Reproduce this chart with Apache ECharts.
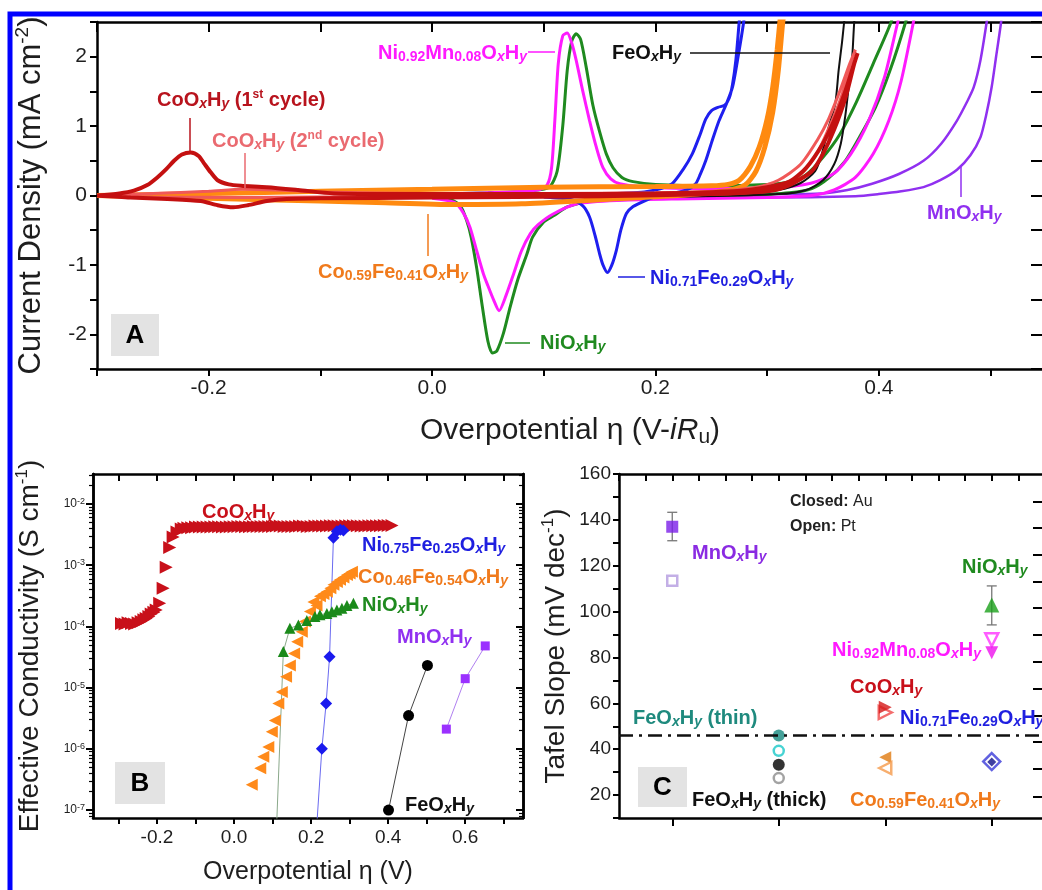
<!DOCTYPE html>
<html>
<head>
<meta charset="utf-8">
<script src="https://cdn.jsdelivr.net/npm/echarts@6/dist/echarts.min.js"></script>
<style>
  html, body { margin: 0; background: #fff; }
  #chart { width: 1042px; height: 890px; }
</style>
</head>
<body>
<div id="chart"></div>
<script>
// ---- Panel A: cyclic voltammograms [overpotential (V), current density (mA cm-2)] ----
const cvMnOxHy = [[0.10, 0.0], [0.2, 0.01], [0.3, 0.02], [0.349, 0.03], [0.372, 0.08], [0.394, 0.17], [0.418, 0.31], [0.44, 0.5], [0.456, 0.75], [0.47, 1.08], [0.479, 1.35], [0.485, 1.56], [0.491, 1.95], [0.4966, 2.5], [0.501, 3.0],
  [0.513, 3.0], [0.5095, 2.5], [0.505, 2.0], [0.501, 1.56], [0.496, 1.15], [0.491, 0.84], [0.482, 0.58], [0.47, 0.37], [0.455, 0.22], [0.44, 0.12], [0.42, 0.06], [0.4, 0.02], [0.379, -0.01], [0.3, -0.03], [0.2, -0.02], [0.1, -0.01]];
const cvNiOxHy = [[0.0, 0.02], [0.05, 0.04], [0.09, 0.07], [0.105, 0.12], [0.112, 0.35], [0.117, 1.0], [0.121, 1.8], [0.125, 2.22], [0.129, 2.33], [0.133, 2.25], [0.138, 1.85], [0.144, 1.3], [0.15, 0.92], [0.156, 0.6], [0.162, 0.4], [0.17, 0.26], [0.18, 0.2], [0.2, 0.16], [0.25, 0.14], [0.3, 0.16], [0.32, 0.2], [0.335, 0.3], [0.35, 0.55], [0.365, 0.88], [0.38, 1.35], [0.395, 1.9], [0.411, 2.5], [0.42, 3.0],
  [0.432, 3.0], [0.424, 2.5], [0.41, 1.8], [0.397, 1.27], [0.383, 0.85], [0.37, 0.5], [0.355, 0.25], [0.34, 0.1], [0.32, 0.04], [0.28, 0.0], [0.22, -0.03], [0.17, -0.06], [0.14, -0.08], [0.13, -0.12], [0.12, -0.17], [0.11, -0.28], [0.1, -0.38], [0.09, -0.6], [0.085, -0.84], [0.077, -1.2], [0.07, -1.6], [0.064, -1.98], [0.058, -2.24], [0.054, -2.27], [0.05, -2.1], [0.045, -1.6], [0.04, -1.05], [0.035, -0.6], [0.031, -0.36], [0.025, -0.14], [0.015, -0.05], [0.0, -0.03]];
const cvNiMnOxHy = [[0.0, 0.02], [0.05, 0.04], [0.095, 0.08], [0.103, 0.15], [0.107, 0.4], [0.11, 1.1], [0.113, 1.9], [0.117, 2.3], [0.121, 2.34], [0.125, 2.2], [0.129, 1.95], [0.135, 1.5], [0.141, 1.08], [0.147, 0.7], [0.153, 0.4], [0.16, 0.24], [0.168, 0.17], [0.19, 0.12], [0.25, 0.1], [0.3, 0.1], [0.34, 0.18], [0.36, 0.32], [0.375, 0.6], [0.391, 1.08], [0.405, 1.7], [0.417, 2.5], [0.425, 3.0],
  [0.437, 3.0], [0.431, 2.5], [0.42, 1.65], [0.409, 1.08], [0.395, 0.6], [0.379, 0.26], [0.36, 0.08], [0.34, 0.0], [0.3, -0.03], [0.22, -0.05], [0.17, -0.07], [0.13, -0.12], [0.108, -0.27], [0.095, -0.42], [0.088, -0.55], [0.08, -0.8], [0.073, -1.13], [0.066, -1.45], [0.06, -1.66], [0.055, -1.5], [0.05, -1.3], [0.046, -1.13], [0.04, -0.8], [0.034, -0.46], [0.028, -0.25], [0.02, -0.1], [0.0, -0.04]];
const cvNiFeOxHy = [[0.1, 0.0], [0.15, 0.02], [0.19, 0.05], [0.205, 0.1], [0.215, 0.17], [0.225, 0.38], [0.233, 0.6], [0.24, 0.88], [0.245, 1.1], [0.25, 1.22], [0.256, 1.27], [0.262, 1.3], [0.266, 1.4], [0.269, 1.6], [0.272, 1.95], [0.275, 2.5], [0.278, 3.0],
  [0.283, 3.0], [0.279, 2.5], [0.274, 2.0], [0.269, 1.56], [0.263, 1.3], [0.257, 1.08], [0.251, 0.8], [0.245, 0.5], [0.24, 0.3], [0.236, 0.17], [0.228, 0.08], [0.215, 0.03], [0.2, -0.02], [0.19, -0.08], [0.18, -0.16], [0.174, -0.26], [0.169, -0.5], [0.165, -0.79], [0.161, -1.0], [0.157, -1.11], [0.153, -1.0], [0.15, -0.84], [0.146, -0.58], [0.141, -0.31], [0.135, -0.15], [0.125, -0.06], [0.1, -0.02]];
const cvFeOxHy = [[0.1, 0.0], [0.2, 0.02], [0.28, 0.04], [0.31, 0.08], [0.33, 0.18], [0.343, 0.35], [0.349, 0.6], [0.355, 0.98], [0.361, 1.32], [0.364, 1.8], [0.367, 2.2], [0.369, 2.5], [0.373, 3.0],
  [0.381, 3.0], [0.378, 2.5], [0.376, 1.95], [0.373, 1.56], [0.37, 1.15], [0.366, 0.75], [0.36, 0.45], [0.35, 0.22], [0.335, 0.08], [0.31, 0.02], [0.2, -0.02], [0.1, -0.02]];
const cvCoFeOxHy = [[-0.3, 0.0], [-0.2, 0.03], [-0.1, 0.06], [0.0, 0.09], [0.1, 0.12], [0.2, 0.13], [0.25, 0.14], [0.265, 0.16], [0.275, 0.22], [0.285, 0.42], [0.293, 0.7], [0.3, 1.1], [0.305, 1.56], [0.309, 2.1], [0.312, 2.6], [0.315, 3.0],
  [0.318, 3.0], [0.314, 2.5], [0.31, 1.8], [0.305, 1.2], [0.298, 0.7], [0.29, 0.35], [0.28, 0.15], [0.26, 0.06], [0.22, 0.0], [0.15, -0.06], [0.08, -0.12], [0.02, -0.13], [-0.05, -0.1], [-0.15, -0.06], [-0.25, -0.02], [-0.3, 0.0]];
const cvCoOxHy1 = [[-0.3, 0.0], [-0.28, 0.03], [-0.267, 0.07], [-0.255, 0.15], [-0.246, 0.26], [-0.238, 0.38], [-0.231, 0.5], [-0.224, 0.59], [-0.216, 0.62], [-0.209, 0.57], [-0.204, 0.46], [-0.198, 0.33], [-0.192, 0.22], [-0.182, 0.16], [-0.171, 0.14], [-0.148, 0.12], [-0.12, 0.08], [-0.088, 0.03], [0.0, 0.02], [0.1, 0.02], [0.2, 0.03], [0.27, 0.06], [0.3, 0.12], [0.32, 0.2], [0.335, 0.4], [0.35, 0.75], [0.36, 1.08], [0.37, 1.5], [0.377, 1.85], [0.381, 2.05],
  [0.378, 1.9], [0.37, 1.4], [0.36, 0.95], [0.35, 0.6], [0.34, 0.35], [0.32, 0.15], [0.3, 0.06], [0.25, 0.02], [0.15, -0.01], [0.0, -0.03], [-0.1, -0.04], [-0.13, -0.05], [-0.148, -0.08], [-0.165, -0.14], [-0.178, -0.17], [-0.192, -0.14], [-0.207, -0.08], [-0.237, -0.05], [-0.27, -0.03], [-0.3, 0.0]];
const cvCoOxHy2 = [[-0.3, 0.0], [-0.25, 0.03], [-0.2, 0.06], [-0.17, 0.09], [-0.14, 0.08], [-0.1, 0.05], [0.0, 0.03], [0.1, 0.03], [0.2, 0.04], [0.26, 0.07], [0.29, 0.12], [0.31, 0.22], [0.33, 0.45], [0.345, 0.8], [0.355, 1.1], [0.365, 1.5], [0.374, 1.9], [0.379, 2.1],
  [0.376, 1.95], [0.367, 1.45], [0.356, 1.0], [0.345, 0.62], [0.33, 0.3], [0.31, 0.12], [0.28, 0.04], [0.2, 0.0], [0.0, -0.02], [-0.1, -0.02], [-0.17, -0.03], [-0.25, -0.02], [-0.3, 0.0]];
const aXLabels = [-0.2, 0.0, 0.2, 0.4];
const aYLabels = [-2, -1, 0, 1, 2];

// ---- Panel B: effective conductivity (S cm-1) vs overpotential (V) ----
const condCoX = [-0.292, -0.283, -0.275, -0.266, -0.258, -0.249, -0.241, -0.234, -0.228, -0.221, -0.215, -0.208, -0.202, -0.193, -0.184, -0.176, -0.167, -0.158, -0.148, -0.137,
  -0.13, -0.12, -0.11, -0.10, -0.09, -0.08, -0.07, -0.06, -0.05, -0.04, -0.03, -0.02, -0.01, 0.0, 0.01, 0.02, 0.03, 0.04, 0.05, 0.06, 0.07, 0.08, 0.09, 0.10,
  0.11, 0.12, 0.13, 0.14, 0.15, 0.16, 0.17, 0.18, 0.19, 0.20, 0.21, 0.22, 0.23, 0.24, 0.25, 0.26, 0.27, 0.28, 0.29, 0.30, 0.31, 0.32, 0.33, 0.34, 0.35, 0.36, 0.37, 0.38, 0.39, 0.40, 0.41];
const condCoY = [1.12e-4, 1.1e-4, 1.15e-4, 1.12e-4, 1.1e-4, 1.15e-4, 1.2e-4, 1.28e-4, 1.35e-4, 1.45e-4, 1.6e-4, 1.7e-4, 1.85e-4, 2.4e-4, 4.2e-4, 9.3e-4, 1.95e-3, 2.9e-3, 3.5e-3, 3.9e-3,
  4.0e-3, 4.1e-3, 4.1e-3, 4.2e-3, 4.2e-3, 4.2e-3, 4.2e-3, 4.2e-3, 4.25e-3, 4.25e-3, 4.2e-3, 4.2e-3, 4.25e-3, 4.25e-3, 4.3e-3, 4.3e-3, 4.25e-3, 4.25e-3, 4.3e-3, 4.3e-3, 4.3e-3, 4.3e-3, 4.3e-3, 4.3e-3,
  4.35e-3, 4.35e-3, 4.3e-3, 4.3e-3, 4.3e-3, 4.3e-3, 4.35e-3, 4.35e-3, 4.3e-3, 4.3e-3, 4.35e-3, 4.35e-3, 4.35e-3, 4.35e-3, 4.4e-3, 4.4e-3, 4.35e-3, 4.35e-3, 4.4e-3, 4.4e-3, 4.4e-3, 4.4e-3, 4.35e-3, 4.35e-3, 4.4e-3, 4.4e-3, 4.4e-3, 4.4e-3, 4.45e-3, 4.45e-3, 4.45e-3];
const condNiFeX = [0.21, 0.228, 0.239, 0.248, 0.258, 0.267, 0.276, 0.284];
const condNiFeY = [2e-8, 1.0e-6, 5.5e-6, 3.2e-5, 2.8e-3, 3.6e-3, 3.8e-3, 3.7e-3];
const condCoFeX = [0.046, 0.068, 0.076, 0.089, 0.098, 0.106, 0.115, 0.124, 0.135, 0.145, 0.156, 0.164, 0.176, 0.184, 0.197, 0.206, 0.214, 0.223, 0.232, 0.241, 0.25, 0.258, 0.267, 0.275, 0.284, 0.293, 0.3, 0.306];
const condCoFeY = [2.6e-7, 4.8e-7, 7.4e-7, 1.07e-6, 1.9e-6, 2.9e-6, 5.5e-6, 8.5e-6, 1.5e-5, 2.3e-5, 3.6e-5, 5.6e-5, 8.2e-5, 1.2e-4, 1.75e-4, 2.5e-4, 2.2e-4, 3.1e-4, 3.4e-4, 3.7e-4, 4.2e-4, 4.8e-4, 5.3e-4, 5.8e-4, 6.3e-4, 6.9e-4, 7.3e-4, 7.8e-4];
const condNiX = [0.106, 0.128, 0.145, 0.167, 0.189, 0.21, 0.223, 0.241, 0.254, 0.267, 0.28, 0.293, 0.31];
const condNiY = [1e-8, 3.9e-5, 9.3e-5, 1.05e-4, 1.25e-4, 1.45e-4, 1.55e-4, 1.63e-4, 1.73e-4, 1.85e-4, 1.98e-4, 2.2e-4, 2.4e-4];
const condFeX = [0.401, 0.453, 0.502];
const condFeY = [1.0e-7, 3.5e-6, 2.3e-5];
const condMnX = [0.551, 0.60, 0.652];
const condMnY = [2.1e-6, 1.4e-5, 4.8e-5];
const bXTicks = [-0.3, -0.2, -0.1, 0.0, 0.1, 0.2, 0.3, 0.4, 0.5, 0.6, 0.7];
const bXLabels = [-0.2, 0.0, 0.2, 0.4, 0.6];
const bDecades = [-7, -6, -5, -4, -3, -2];

// ---- Panel C: Tafel slopes (mV dec-1); x = material column 1..4 ----
const tafelCols = ['MnOxHy', 'FeOxHy', 'CoOxHy / Co0.59Fe0.41OxHy', 'NiOxHy / Ni0.92Mn0.08OxHy / Ni0.71Fe0.29OxHy'];
const tafelMnAu = [[1, 137.0]];
const tafelMnPt = [[1, 113.4]];
const tafelFeThinAu = [[2, 46.0]];
const tafelFeThinPt = [[2, 39.3]];
const tafelFeThickAu = [[2, 33.2]];
const tafelFeThickPt = [[2, 27.4]];
const tafelCoAu = [[3, 58.3]];
const tafelCoPt = [[3, 56.0]];
const tafelCoFeAu = [[3, 36.5]];
const tafelCoFePt = [[3, 31.8]];
const tafelNiAu = [[4, 102.9]];
const tafelNiMnPt = [[4, 87.7]];
const tafelNiMnAu = [[4, 82.1]];
const tafelNiFePt = [[4, 34.6]];
const tafelNiFeAu = [[4, 34.4]];
const tafelErr = [[1, 130.9, 143.3], [4, 94.2, 111.2]];
const tafelRef = 46;
const cYLabels = [20, 40, 60, 80, 100, 120, 140, 160];
const cRightTicks = [19.4, 31.5, 43.1, 54.7, 66.4, 78, 89.9, 101.5, 113.2, 124.8, 136.5, 148];

const FONT = '"Liberation Sans", Arial, sans-serif';
const INK = '#1e1e1e';

// turn "CoO_{x}H_{y} (1^{st} cycle)" into ECharts rich tokens
function rt(s) {
  const re = /([_^~])\{([^}]*)\}/g;
  let out = '', last = 0, m;
  while ((m = re.exec(s))) {
    if (m.index > last) out += '{b|' + s.slice(last, m.index) + '}';
    const k = m[1] === '^' ? 'p' : m[1] === '~' ? 'i' : (/^[xy]$/.test(m[2]) ? 'si' : 's');
    out += '{' + k + '|' + m[2] + '}';
    last = re.lastIndex;
  }
  if (last < s.length) out += '{b|' + s.slice(last) + '}';
  return out;
}

function richSet(size, color, weight) {
  const base = { fontFamily: FONT, fontWeight: weight, color: color, fill: color };
  const sub = Math.round(size * 0.7), sup = Math.round(size * 0.62);
  return {
    b: { ...base, fontSize: size, lineHeight: Math.round(size * 1.15) },
    i: { ...base, fontSize: size, fontStyle: 'italic', lineHeight: Math.round(size * 1.15) },
    s: { ...base, fontSize: sub, verticalAlign: 'bottom', lineHeight: sub },
    si: { ...base, fontSize: sub, fontStyle: 'italic', verticalAlign: 'bottom', lineHeight: sub },
    p: { ...base, fontSize: sup, verticalAlign: 'top', lineHeight: sup }
  };
}

const frameLine = { show: true, onZero: false, lineStyle: { color: '#000', width: 2.5 } };
function axis(opt) {
  return Object.assign({
    type: 'value', axisLine: frameLine, splitLine: { show: false },
    axisLabel: { show: false }, axisTick: { show: false }, nameMoveOverlap: false
  }, opt);
}
function ticks(len, inside, extra) {
  return Object.assign({ show: true, inside: inside, length: len, lineStyle: { color: '#000', width: 2 } }, extra || {});
}
function labels(size, extra) {
  return Object.assign({ show: true, color: INK, fontFamily: FONT, fontSize: size }, extra);
}
function title(text, size, gap) {
  return {
    name: rt(text), nameLocation: 'middle', nameGap: gap,
    nameTextStyle: { rich: richSet(size, INK, 'normal') }
  };
}

const A = { left: 97, top: 22, width: 946, height: 347 };
const B = { left: 93, top: 474, width: 430, height: 344 };
const C = { left: 619, top: 474, width: 426, height: 344 };

const bMinor = [];
for (let n = -8; n <= -2; n++) for (let k = 2; k <= 9; k++) bMinor.push(n + Math.log10(k));
const bYMin = -7.13, bYMax = -1.51;

const xAxis = [
  axis({ gridIndex: 0, position: 'bottom', min: -0.3, max: 0.547, interval: 0.1, axisTick: ticks(7, false),
    axisLabel: labels(21, { customValues: aXLabels, formatter: v => v.toFixed(1), margin: 9 }),
    ...title('Overpotential η (V-~{iR}_{u})', 30, 44) }),
  axis({ gridIndex: 0, position: 'top', min: -0.3, max: 0.547, interval: 0.1, axisTick: ticks(10, true) }),
  axis({ gridIndex: 1, position: 'bottom', min: -0.366, max: 0.75, axisTick: ticks(6, false, { customValues: bXTicks }),
    axisLabel: labels(19, { customValues: bXLabels, formatter: v => v.toFixed(1), margin: 10 }),
    ...title('Overpotential η (V)', 25, 40) }),
  axis({ gridIndex: 1, position: 'top', min: -0.366, max: 0.75, axisTick: ticks(7, true, { customValues: bXTicks }) }),
  axis({ gridIndex: 2, position: 'bottom', min: 0.5, max: 4.5, axisTick: ticks(8, false, { customValues: [1, 2, 3, 4] }) }),
  axis({ gridIndex: 2, position: 'top', min: 0.5, max: 4.5, interval: 0.25, axisTick: ticks(7, true) })
];

const yAxis = [
  axis({ gridIndex: 0, position: 'left', min: -2.5, max: 2.5, interval: 0.5, axisTick: ticks(7, false),
    axisLabel: labels(21, { customValues: aYLabels, margin: 10 }),
    ...title('Current Density (mA cm^{-2})', 31, 48) }),
  axis({ gridIndex: 0, position: 'right', min: -2.5, max: 2.5, interval: 0.5, axisTick: ticks(12, true) }),
  axis({ gridIndex: 1, position: 'left', min: bYMin, max: bYMax, axisTick: ticks(7, false, { customValues: bDecades }),
    axisLabel: labels(12, { customValues: bDecades, margin: 8, formatter: v => '{m|10}{e|' + Math.round(v) + '}',
      rich: { m: { fontSize: 12, fontFamily: FONT, color: INK, lineHeight: 14 }, e: { fontSize: 9, fontFamily: FONT, color: INK, verticalAlign: 'top', lineHeight: 9 } } }),
    ...title('Effective Conductivity (S cm^{-1})', 28, 47) }),
  axis({ gridIndex: 1, position: 'left', min: bYMin, max: bYMax, axisTick: ticks(4, false, { customValues: bMinor.filter(v => v > bYMin && v < bYMax), lineStyle: { color: '#000', width: 1.2 } }) }),
  axis({ gridIndex: 1, position: 'right', min: bYMin, max: bYMax, axisTick: ticks(7, true, { customValues: bDecades }) }),
  axis({ gridIndex: 1, position: 'right', min: bYMin, max: bYMax, axisTick: ticks(4, true, { customValues: bMinor.filter(v => v > bYMin && v < bYMax), lineStyle: { color: '#000', width: 1.2 } }) }),
  axis({ gridIndex: 2, position: 'left', min: 10, max: 160, interval: 10, axisTick: ticks(6, false),
    axisLabel: labels(19, { customValues: cYLabels, margin: 8 }),
    ...title('Tafel Slope (mV dec^{-1})', 28, 47) }),
  axis({ gridIndex: 2, position: 'right', min: 10, max: 160, axisTick: ticks(12, true, { customValues: cRightTicks }) })
];

function cv(name, data, color, width, z) {
  return { name, type: 'line', xAxisIndex: 0, yAxisIndex: 0, data, showSymbol: false, smooth: 0.25, clip: true,
    lineStyle: { color, width }, z };
}
function cond(name, xs, ys, symbol, size, color, rotate, lineColor) {
  return { name, type: 'line', xAxisIndex: 2, yAxisIndex: 2, clip: true,
    data: xs.map((x, i) => [x, Math.log10(ys[i])]),
    symbol, symbolSize: size, symbolRotate: rotate || 0, showSymbol: true, showAllSymbol: true,
    itemStyle: { color }, lineStyle: lineColor ? { color: lineColor, width: 1 } : { width: 0, opacity: 0 }, z: 3 };
}
function taf(name, data, symbol, size, color, rotate, open) {
  return { name, type: 'scatter', xAxisIndex: 4, yAxisIndex: 6, data, symbol, symbolSize: size, symbolRotate: rotate || 0,
    itemStyle: open ? { color: '#fff', borderColor: color, borderWidth: 2.5 } : { color }, z: 4 };
}

const series = [
  cv('MnOxHy', cvMnOxHy, '#9030f0', 2.5, 2),
  cv('NiOxHy', cvNiOxHy, '#1f8a1f', 3, 3),
  cv('Ni0.92Mn0.08OxHy', cvNiMnOxHy, '#ff1aff', 3, 4),
  cv('Ni0.71Fe0.29OxHy', cvNiFeOxHy, '#1f1fef', 3, 5),
  cv('FeOxHy', cvFeOxHy, '#111', 2, 5),
  cv('Co0.59Fe0.41OxHy', cvCoFeOxHy, '#ff8a10', 5, 6),
  cv('CoOxHy 2nd', cvCoOxHy2, '#f05858', 3, 7),
  cv('CoOxHy 1st', cvCoOxHy1, '#c41010', 4, 8),

  cond('CoOxHy', condCoX, condCoY, 'triangle', 13, '#c8101a', -90),
  cond('Co0.46Fe0.54OxHy', condCoFeX, condCoFeY, 'triangle', 12, '#ff8a1a', 90),
  cond('NiOxHy', condNiX, condNiY, 'triangle', 11, '#1a8a1a', 0, '#8aa88a'),
  cond('Ni0.75Fe0.25OxHy', condNiFeX, condNiFeY, 'diamond', 12, '#1a1aee', 0, '#6a6af0'),
  cond('FeOxHy', condFeX, condFeY, 'circle', 11, '#000', 0, '#444'),
  cond('MnOxHy', condMnX, condMnY, 'rect', 9, '#9b30ff', 0, '#b080f0'),

  {
    type: 'custom', xAxisIndex: 4, yAxisIndex: 6, data: tafelErr, z: 2,
    renderItem: (params, api) => {
      const x = api.value(0);
      const lo = api.coord([x, api.value(1)]);
      const hi = api.coord([x, api.value(2)]);
      const st = { stroke: '#777', lineWidth: 1.3 };
      return { type: 'group', children: [
        { type: 'line', shape: { x1: lo[0], y1: lo[1], x2: hi[0], y2: hi[1] }, style: st },
        { type: 'line', shape: { x1: lo[0] - 5, y1: lo[1], x2: lo[0] + 5, y2: lo[1] }, style: st },
        { type: 'line', shape: { x1: hi[0] - 5, y1: hi[1], x2: hi[0] + 5, y2: hi[1] }, style: st }
      ] };
    }
  },
  {
    type: 'line', xAxisIndex: 4, yAxisIndex: 6, data: [], z: 1,
    markLine: { silent: true, symbol: 'none', label: { show: false },
      lineStyle: { color: '#111', width: 2.5, type: [14, 6, 3, 6] }, data: [{ yAxis: tafelRef }] }
  },
  taf('MnOxHy Au', tafelMnAu, 'rect', 12, '#7a1ee8'),
  taf('MnOxHy Pt', tafelMnPt, 'rect', 10, '#b49be0', 0, true),
  taf('FeOxHy thin Au', tafelFeThinAu, 'circle', 12, '#178a80'),
  taf('FeOxHy thin Pt', tafelFeThinPt, 'circle', 10, '#19c8c8', 0, true),
  taf('FeOxHy thick Au', tafelFeThickAu, 'circle', 12, '#000'),
  taf('FeOxHy thick Pt', tafelFeThickPt, 'circle', 10, '#8c8c8c', 0, true),
  taf('CoOxHy Pt', tafelCoPt, 'triangle', 13, '#f04848', -90, true),
  taf('CoOxHy Au', tafelCoAu, 'triangle', 13, '#d41919', -90),
  taf('Co0.59Fe0.41OxHy Au', tafelCoFeAu, 'triangle', 12, '#e07a10', 90),
  taf('Co0.59Fe0.41OxHy Pt', tafelCoFePt, 'triangle', 12, '#f59a4a', 90, true),
  taf('NiOxHy Au', tafelNiAu, 'triangle', 15, '#1aa01a'),
  taf('Ni0.92Mn0.08OxHy Pt', tafelNiMnPt, 'triangle', 13, '#ff33ff', 180, true),
  taf('Ni0.92Mn0.08OxHy Au', tafelNiMnAu, 'triangle', 13, '#ee11ee', 180),
  taf('Ni0.71Fe0.29OxHy Pt', tafelNiFePt, 'diamond', 17, '#3a3ad8', 0, true),
  taf('Ni0.71Fe0.29OxHy Au', tafelNiFeAu, 'diamond', 9, '#10108a')
];

// annotations: [markup, left x, middle y, colour]
const notes = [
  ['CoO_{x}H_{y} (1^{st} cycle)', 157, 100, '#b8131d'],
  ['CoO_{x}H_{y} (2^{nd} cycle)', 212, 141, '#ea6a70'],
  ['Ni_{0.92}Mn_{0.08}O_{x}H_{y}', 378, 53, '#ff19ff'],
  ['FeO_{x}H_{y}', 612, 53, '#111'],
  ['Co_{0.59}Fe_{0.41}O_{x}H_{y}', 318, 272, '#f07a1c'],
  ['NiO_{x}H_{y}', 540, 343, '#1f8a1f'],
  ['Ni_{0.71}Fe_{0.29}O_{x}H_{y}', 650, 278, '#1f1fe0'],
  ['MnO_{x}H_{y}', 927, 213, '#9030f0'],
  ['CoO_{x}H_{y}', 202, 512, '#c8101a'],
  ['Ni_{0.75}Fe_{0.25}O_{x}H_{y}', 362, 545, '#1f1fe0'],
  ['Co_{0.46}Fe_{0.54}O_{x}H_{y}', 358, 577, '#f07a1c'],
  ['NiO_{x}H_{y}', 362, 605, '#1f8a1f'],
  ['MnO_{x}H_{y}', 397, 637, '#9030f0'],
  ['FeO_{x}H_{y}', 405, 805, '#111'],
  ['MnO_{x}H_{y}', 692, 553, '#8a2be2'],
  ['NiO_{x}H_{y}', 962, 567, '#1f8a1f'],
  ['Ni_{0.92}Mn_{0.08}O_{x}H_{y}', 832, 650, '#ff19ff'],
  ['CoO_{x}H_{y}', 850, 687, '#c8101a'],
  ['Ni_{0.71}Fe_{0.29}O_{x}H_{y}', 900, 718, '#1f1fe0'],
  ['FeO_{x}H_{y} (thin)', 633, 718, '#1f8a7e'],
  ['FeO_{x}H_{y} (thick)', 692, 800, '#111'],
  ['Co_{0.59}Fe_{0.41}O_{x}H_{y}', 850, 800, '#f07a1c']
];
const leaders = [
  [190, 118, 190, 151, '#b8131d'], [245, 153, 245, 188, '#ea6a70'], [528, 52, 555, 52, '#ff19ff'],
  [690, 53, 830, 53, '#111'], [428, 214, 428, 256, '#f07a1c'], [505, 343, 530, 343, '#1f8a1f'],
  [618, 277, 645, 277, '#1f1fe0'], [961, 167, 961, 197, '#9030f0']
];
const panels = [['A', 111, 314, 48, 42], ['B', 115, 762, 50, 42], ['C', 638, 767, 49, 40]];

const graphic = [
  { type: 'rect', z: 200, shape: { x: 10, y: 14, width: 1100, height: 1000 }, style: { fill: null, stroke: '#0000ff', lineWidth: 5 } }
];
panels.forEach(([t, x, y, w, h]) => {
  graphic.push({ type: 'rect', z: 90, shape: { x, y, width: w, height: h }, style: { fill: '#e3e3e3' } });
  graphic.push({ type: 'text', z: 91, x: x + w / 2, y: y + h / 2 + 1,
    style: { text: t, fill: '#000', font: 'bold 26px ' + FONT, align: 'center', verticalAlign: 'middle' } });
});
leaders.forEach(([x1, y1, x2, y2, c]) => {
  graphic.push({ type: 'line', z: 95, shape: { x1, y1, x2, y2 }, style: { stroke: c, lineWidth: 1.5 } });
});
notes.forEach(([t, x, y, c]) => {
  graphic.push({ type: 'text', z: 96, x, y,
    style: { text: rt(t), rich: richSet(20, c, 'bold'), align: 'left', verticalAlign: 'middle' } });
});
graphic.push({ type: 'text', z: 96, x: 790, y: 502, style: { text: '{b|Closed:}{r| Au}', align: 'left', verticalAlign: 'middle',
  rich: { b: { fontSize: 16, fontWeight: 'bold', fontFamily: FONT, fill: '#222' }, r: { fontSize: 16, fontFamily: FONT, fill: '#222' } } } });
graphic.push({ type: 'text', z: 96, x: 790, y: 527, style: { text: '{b|Open:}{r| Pt}', align: 'left', verticalAlign: 'middle',
  rich: { b: { fontSize: 16, fontWeight: 'bold', fontFamily: FONT, fill: '#222' }, r: { fontSize: 16, fontFamily: FONT, fill: '#222' } } } });

const chart = echarts.init(document.getElementById('chart'));
chart.setOption({
  backgroundColor: '#fff',
  animation: false,
  textStyle: { fontFamily: FONT },
  grid: [
    { ...A, outerBoundsMode: 'none', containLabel: false },
    { ...B, outerBoundsMode: 'none', containLabel: false },
    { ...C, outerBoundsMode: 'none', containLabel: false }
  ],
  xAxis, yAxis, series, graphic
});
</script>
</body>
</html>
